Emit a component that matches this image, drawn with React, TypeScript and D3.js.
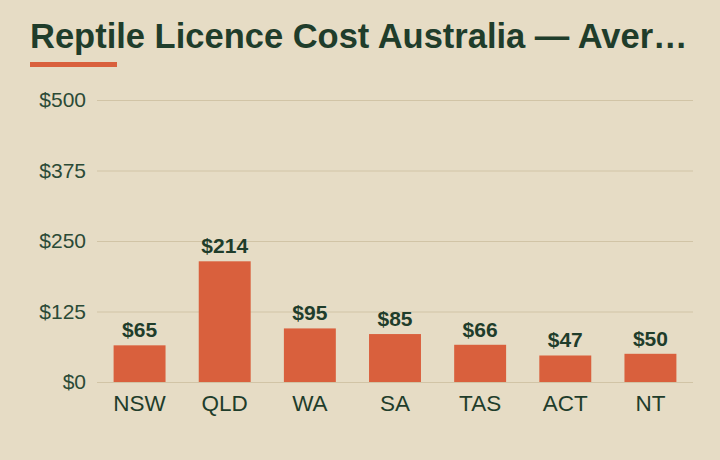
import React, { useEffect, useRef } from 'react';
import * as d3 from 'd3';

const states = ['NSW', 'QLD', 'WA', 'SA', 'TAS', 'ACT', 'NT'];
const costs = [65, 214, 95, 85, 66, 47, 50];
const yTicks = [0, 125, 250, 375, 500];

const title = 'Reptile Licence Cost Australia — Aver…';

const App: React.FC = () => {
  const svgRef = useRef<SVGSVGElement>(null);

  useEffect(() => {
    if (!svgRef.current) return;
    const width = 720;
    const height = 460;
    const margin = { top: 100, right: 27, bottom: 78, left: 97 };

    const svg = d3.select(svgRef.current);
    svg.selectAll('*').remove();
    svg.attr('width', width).attr('height', height);

    // background
    svg.append('rect').attr('width', width).attr('height', height).attr('fill', '#e6dcc5');

    const font = '"Liberation Sans", Arial, sans-serif';

    // title + accent line
    svg.append('text')
      .attr('x', 30)
      .attr('y', 48)
      .style('font-family', font)
      .style('font-weight', 'bold')
      .style('font-size', '34.5px')
      .style('fill', '#1f3d2b')
      .text(title);

    svg.append('rect')
      .attr('x', 30).attr('y', 62)
      .attr('width', 87).attr('height', 5)
      .attr('fill', '#d9603d');

    const x = d3.scaleBand()
      .domain(states)
      .range([margin.left, width - margin.right])
      .paddingInner(0.39)
      .paddingOuter(0.195);

    const y = d3.scaleLinear()
      .domain([0, 500])
      .range([height - margin.bottom, margin.top]);

    // grid
    svg.append('g')
      .selectAll('line')
      .data(yTicks)
      .enter()
      .append('line')
      .attr('x1', margin.left)
      .attr('x2', width - margin.right)
      .attr('y1', d => y(d) + 0.5)
      .attr('y2', d => y(d) + 0.5)
      .style('stroke', '#d1c4a6')
      .style('stroke-width', 1);

    // y labels
    svg.append('g')
      .selectAll('text')
      .data(yTicks)
      .enter()
      .append('text')
      .attr('x', 86)
      .attr('y', d => y(d))
      .attr('dy', '0.35em')
      .attr('text-anchor', 'end')
      .style('font-family', font)
      .style('font-size', '21px')
      .style('fill', '#2b4a36')
      .text(d => `$${d}`);

    // bars
    svg.append('g')
      .selectAll('rect')
      .data(costs)
      .enter()
      .append('rect')
      .attr('x', (d, i) => x(states[i])!)
      .attr('y', d => y(d))
      .attr('width', x.bandwidth())
      .attr('height', d => y(0) - y(d))
      .attr('fill', '#d9603d');

    // value labels
    svg.append('g')
      .selectAll('text')
      .data(costs)
      .enter()
      .append('text')
      .attr('x', (d, i) => x(states[i])! + x.bandwidth() / 2)
      .attr('y', d => y(d) - 8)
      .attr('text-anchor', 'middle')
      .style('font-family', font)
      .style('font-weight', 'bold')
      .style('font-size', '21px')
      .style('fill', '#1f3d2b')
      .text(d => `$${d}`);

    // x labels
    svg.append('g')
      .selectAll('text')
      .data(states)
      .enter()
      .append('text')
      .attr('x', d => x(d)! + x.bandwidth() / 2)
      .attr('y', y(0) + 29)
      .attr('text-anchor', 'middle')
      .style('font-family', font)
      .style('font-size', '22.5px')
      .style('fill', '#1f3d2b')
      .text(d => d);
  }, []);

  return (
    <div style={{ position: 'fixed', left: 0, top: 0 }}>
      <svg ref={svgRef} style={{ display: 'block' }} />
    </div>
  );
};

export default App;
